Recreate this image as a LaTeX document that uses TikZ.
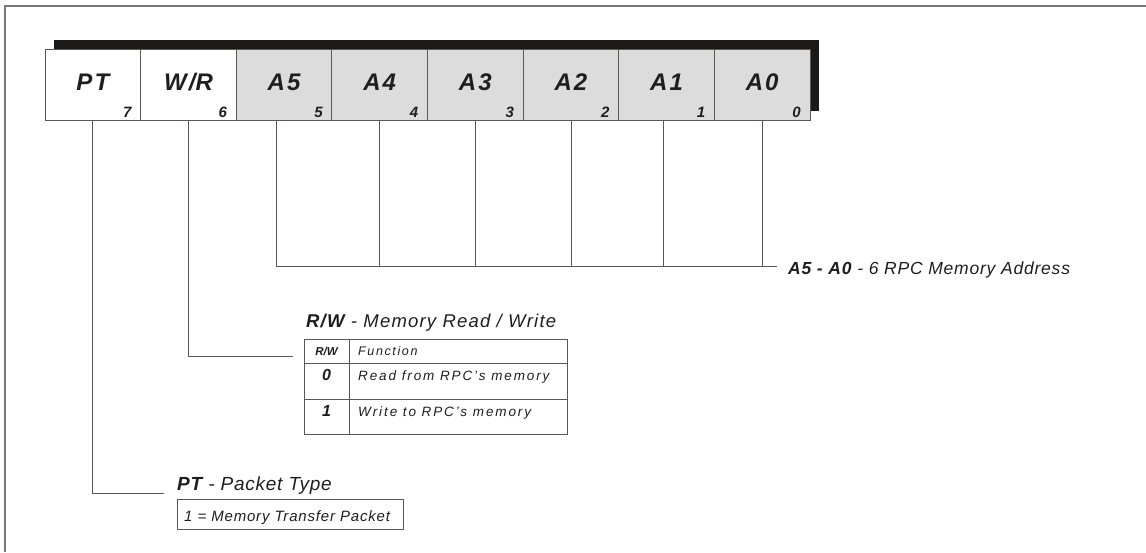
\documentclass[tikz,border=0pt]{standalone}
\usepackage{fontspec}
\setmainfont{Liberation Sans}
\newcommand\lsp[1]{\addfontfeature{LetterSpace=#1}}
\newcommand\fsz[1]{\fontsize{#1}{#1}\selectfont}
\definecolor{linegray}{HTML}{5A5756}
\definecolor{cellgray}{HTML}{DCDCDC}
\definecolor{shadowc}{HTML}{1C1A19}
\definecolor{txt}{HTML}{1E1E1E}
\tikzset{
  cell/.style={draw=linegray, line width=0.9pt, minimum width=95.625pt, minimum height=71pt, inner sep=0pt, outer sep=0pt},
  hdr/.style={text=txt, font=\fsz{24}\bfseries\itshape\lsp{9}, inner sep=0pt},
  bitno/.style={text=txt, font=\fsz{15}\bfseries\itshape, inner sep=0pt, anchor=base east},
  conn/.style={draw=linegray, line width=0.8pt},
  title/.style={text=txt, anchor=base west, inner sep=0pt},
  tabline/.style={draw=linegray, line width=0.9pt},
  frame/.style={draw=linegray!80, line width=1.3pt}
}
\begin{document}
\begin{tikzpicture}[x=1pt,y=-1pt]
\useasboundingbox (0,0) rectangle (1146,552);
\draw[frame] (5,552) -- (5,6) -- (1146,6);
% shadow
\fill[shadowc] (54,40) rectangle (819,111);
% cells
\foreach \k/\lab/\fc in {7/PT/white,6/W\slash R/white,5/A5/cellgray,4/A4/cellgray,3/A3/cellgray,2/A2/cellgray,1/A1/cellgray,0/A0/cellgray}{
  \pgfmathsetmacro\cx{45+95.625*(7-\k)+47.8125}
  \node[cell, fill=\fc] (c\k) at (\cx,84.5) {};
  \node[hdr] (h\k) at ([yshift=2.5pt]c\k.center) {\lab};
  \node[bitno] (b\k) at ([xshift=-9pt,yshift=3pt]c\k.south east) {\k};
}
% address bus
\coordinate (bus) at (777,266);
\draw[conn] ([xshift=-8pt]c5.south) |- (bus);
\foreach \k/\dx in {4/0,3/0,2/0,1/-3,0/0}{
  \draw[conn] ([xshift=\dx pt]c\k.south) -- ([xshift=\dx pt]c\k.south |- bus);
}
\node[title, font=\fsz{17.5}\itshape\lsp{4.5}] (addr) at (788,274) {{\bfseries A5 - A0} - 6 RPC Memory Address};
% R/W
\node[title, font=\fsz{18.5}\itshape\lsp{6.5}] (rwt) at (306,327) {{\bfseries R/W} - Memory Read / Write};
\coordinate (rwend) at (293,356);
\draw[conn] (c6.south) |- (rwend);
\node[draw=linegray, line width=0.9pt, inner sep=0pt, minimum width=263pt, minimum height=95pt] (rwtab) at (435.5,386.5) {};
\draw[tabline] (349,339) -- (349,434);
\draw[tabline] (304,363) -- (568,363);
\draw[tabline] (304,399) -- (567,399);
\node[text=txt, font=\fsz{11.5}\bfseries\itshape, anchor=base, inner sep=0pt] (rwh) at (326.5,355.5) {R/W};
\node[title, font=\fsz{12.5}\itshape\lsp{13}] (fh) at (358,355.5) {Function};
\node[text=txt, font=\fsz{16}\bfseries\itshape, anchor=base, inner sep=0pt] (r0) at (326.5,380.5) {0};
\node[title, font=\fsz{13.5}\itshape\lsp{14}] (f0) at (358,380.5) {Read from RPC's memory};
\node[text=txt, font=\fsz{16}\bfseries\itshape, anchor=base, inner sep=0pt] (r1) at (326.5,416.5) {1};
\node[title, font=\fsz{13.5}\itshape\lsp{14}] (f1) at (358,416.5) {Write to RPC's memory};
% PT
\coordinate (ptend) at (164,493);
\draw[conn] (c7.south) |- (ptend);
\node[title, font=\fsz{19}\itshape\lsp{4}] (ptt) at (177,490) {{\bfseries PT} - Packet Type};
\node[draw=linegray, line width=0.9pt, minimum width=226pt, minimum height=30pt, inner sep=0pt] (ptbox) at (290,514) {};
\node[title, font=\fsz{15}\itshape\lsp{5.5}] (ptv) at (184,521) {1 = Memory Transfer Packet};
\end{tikzpicture}
\end{document}
